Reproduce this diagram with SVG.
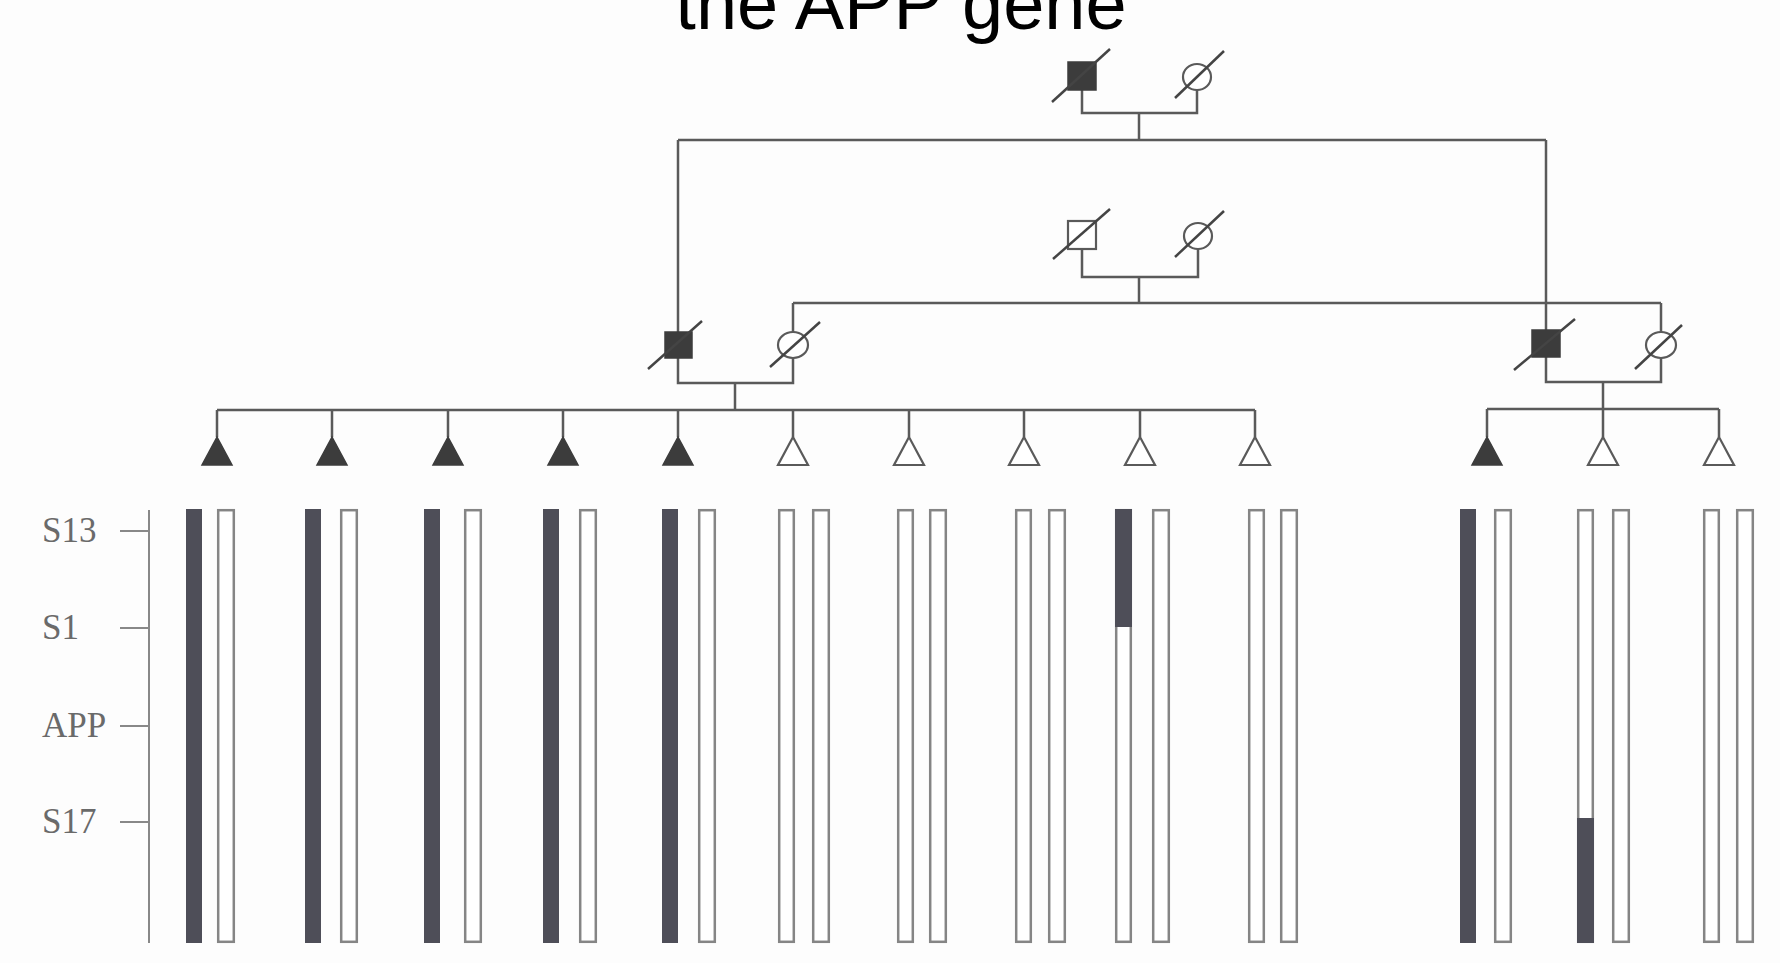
<svg xmlns="http://www.w3.org/2000/svg" width="1780" height="963" viewBox="0 0 1780 963">
<style>
.ln{stroke:#5a5a5a;stroke-width:2.5;fill:none}
.sl{stroke:#444;stroke-width:2.5;fill:none}
.aff{fill:#3c3c3c;stroke:#3c3c3c;stroke-width:1.5}
.un{fill:#ffffff;stroke:#5a5a5a;stroke-width:2.2}
.dk{fill:#4e4e58}
.ob{fill:#ffffff;stroke:#858585;stroke-width:2.5}
.lab{font-family:"Liberation Serif","Times New Roman",serif;font-size:35px;fill:#6a6a6a}
.ttl{font-family:"Liberation Sans",Arial,sans-serif;font-size:74px;fill:#000}
.ax{stroke:#888;stroke-width:2;fill:none}
</style>
<rect width="1780" height="963" fill="#fdfdfd"/>
<text class="ttl" x="901" y="29" text-anchor="middle">the APP gene</text>

<g id="connectors">
<!-- gen I -->
<path class="ln" d="M1082 90 V113 H1197 V90"/>
<path class="ln" d="M1139 113 V140"/>
<path class="ln" d="M678 140 H1546"/>
<path class="ln" d="M678 140 V332"/>
<path class="ln" d="M1546 140 V330"/>
<!-- gen II -->
<path class="ln" d="M1082 249 V277 H1198 V249"/>
<path class="ln" d="M1139 277 V303"/>
<path class="ln" d="M793 303 H1661"/>
<path class="ln" d="M793 303 V332"/>
<path class="ln" d="M1661 303 V332"/>
<!-- gen III left -->
<path class="ln" d="M678 358 V383 H793 V358"/>
<path class="ln" d="M735 383 V410"/>
<path class="ln" d="M217 410 H1255"/>
<path class="ln" d="M217 410 V437 M332 410 V437 M448 410 V437 M563 410 V437 M678 410 V437 M793 410 V437 M909 410 V437 M1024 410 V437 M1140 410 V437 M1255 410 V437"/>
<!-- gen III right -->
<path class="ln" d="M1546 357 V382 H1661 V358"/>
<path class="ln" d="M1603 382 V409"/>
<path class="ln" d="M1487 409 H1719"/>
<path class="ln" d="M1487 409 V437 M1603 409 V437 M1719 409 V437"/>
</g>

<g id="gen1-male">
<rect class="aff" x="1068" y="62" width="28" height="28"/>
<path class="sl" d="M1052 102 L1110 49"/>
</g>
<g id="gen1-female">
<ellipse class="un" cx="1197" cy="77" rx="14" ry="13"/>
<path class="sl" d="M1175 98 L1224 51"/>
</g>
<g id="gen2-male">
<rect class="un" x="1068" y="221" width="28" height="28"/>
<path class="sl" d="M1053 259 L1110 209"/>
</g>
<g id="gen2-female">
<ellipse class="un" cx="1198" cy="236" rx="14" ry="13"/>
<path class="sl" d="M1175 257 L1224 211"/>
</g>
<g id="gen3-male-left">
<rect class="aff" x="665" y="332" width="27" height="26"/>
<path class="sl" d="M648 369 L702 321"/>
</g>
<g id="gen3-female-left">
<ellipse class="un" cx="793" cy="345" rx="15" ry="13"/>
<path class="sl" d="M770 367 L820 322"/>
</g>
<g id="gen3-male-right">
<rect class="aff" x="1532" y="330" width="28" height="27"/>
<path class="sl" d="M1514 370 L1575 319"/>
</g>
<g id="gen3-female-right">
<ellipse class="un" cx="1661" cy="345" rx="15" ry="13"/>
<path class="sl" d="M1635 369 L1682 325"/>
</g>

<g id="child1"><polygon class="aff" points="217,437 202,465 232,465"/></g>
<g id="child2"><polygon class="aff" points="332,437 317,465 347,465"/></g>
<g id="child3"><polygon class="aff" points="448,437 433,465 463,465"/></g>
<g id="child4"><polygon class="aff" points="563,437 548,465 578,465"/></g>
<g id="child5"><polygon class="aff" points="678,437 663,465 693,465"/></g>
<g id="child6"><polygon class="un" points="793,437 778,465 808,465"/></g>
<g id="child7"><polygon class="un" points="909,437 894,465 924,465"/></g>
<g id="child8"><polygon class="un" points="1024,437 1009,465 1039,465"/></g>
<g id="child9"><polygon class="un" points="1140,437 1125,465 1155,465"/></g>
<g id="child10"><polygon class="un" points="1255,437 1240,465 1270,465"/></g>
<g id="child11"><polygon class="aff" points="1487,437 1472,465 1502,465"/></g>
<g id="child12"><polygon class="un" points="1603,437 1588,465 1618,465"/></g>
<g id="child13"><polygon class="un" points="1719,437 1704,465 1734,465"/></g>

<g id="axis">
<path class="ax" d="M149 510 V943"/>
<path class="ax" d="M120 531 H149 M120 628 H149 M120 726 H149 M120 822 H149"/>
<text class="lab" x="42" y="542">S13</text>
<text class="lab" x="42" y="639">S1</text>
<text class="lab" x="42" y="737">APP</text>
<text class="lab" x="42" y="833">S17</text>
</g>

<g id="haplotypes">
<rect class="dk" x="186" y="509" width="16" height="434"/>
<rect class="ob" x="218.2" y="510.2" width="15.6" height="431.6"/>
<rect class="dk" x="305" y="509" width="16" height="434"/>
<rect class="ob" x="341.2" y="510.2" width="15.6" height="431.6"/>
<rect class="dk" x="424" y="509" width="16" height="434"/>
<rect class="ob" x="465.2" y="510.2" width="15.6" height="431.6"/>
<rect class="dk" x="543" y="509" width="16" height="434"/>
<rect class="ob" x="580.2" y="510.2" width="15.6" height="431.6"/>
<rect class="dk" x="662" y="509" width="16" height="434"/>
<rect class="ob" x="699.2" y="510.2" width="15.6" height="431.6"/>
<rect class="ob" x="779.2" y="510.2" width="14.6" height="431.6"/>
<rect class="ob" x="813.2" y="510.2" width="15.6" height="431.6"/>
<rect class="ob" x="898.2" y="510.2" width="14.6" height="431.6"/>
<rect class="ob" x="930.2" y="510.2" width="15.6" height="431.6"/>
<rect class="ob" x="1016.2" y="510.2" width="14.6" height="431.6"/>
<rect class="ob" x="1049.2" y="510.2" width="15.6" height="431.6"/>
<rect class="ob" x="1116.2" y="510.2" width="14.6" height="431.6"/>
<rect class="dk" x="1115" y="509" width="17" height="118"/>
<rect class="ob" x="1153.2" y="510.2" width="15.6" height="431.6"/>
<rect class="ob" x="1249.2" y="510.2" width="14.6" height="431.6"/>
<rect class="ob" x="1281.2" y="510.2" width="15.6" height="431.6"/>
<rect class="dk" x="1460" y="509" width="16" height="434"/>
<rect class="ob" x="1495.2" y="510.2" width="15.6" height="431.6"/>
<rect class="ob" x="1578.2" y="510.2" width="14.6" height="431.6"/>
<rect class="dk" x="1577" y="818" width="17" height="125"/>
<rect class="ob" x="1613.2" y="510.2" width="15.6" height="431.6"/>
<rect class="ob" x="1704.2" y="510.2" width="14.6" height="431.6"/>
<rect class="ob" x="1737.2" y="510.2" width="15.6" height="431.6"/>
</g>
</svg>
